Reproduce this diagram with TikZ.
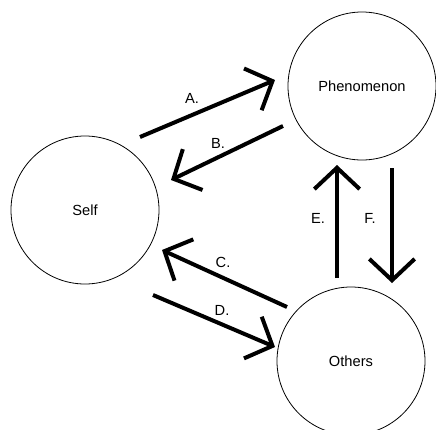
\documentclass[tikz,border=0pt]{standalone}
\usepackage{fontspec}
\setmainfont{Liberation Sans}
\usetikzlibrary{arrows.meta}

\tikzset{
  entity/.style={circle,draw,line width=0.6pt,minimum size=111pt,inner sep=0pt,font=\fontsize{11}{13}\selectfont},
  flow/.style={line width=3pt,-{Straight Barb[length=16pt,width=34pt,line width=3pt]}},
  tag/.style={font=\fontsize{11}{13}\selectfont}
}

\begin{document}
\begin{tikzpicture}[x=0.75pt,y=-0.75pt]

      \clip (0,0) rectangle (436,429);

      \node[entity] (self) at (85,210) {Self};
      \node[entity] (phen) at (362,86) {Phenomenon};
      \node[entity] (others) at (351,361) {Others};

      % arrow ends
      \coordinate (a0) at (140,137);
      \coordinate (a1) at (275,80);
      \coordinate (b0) at (283,126);
      \coordinate (b1) at (171,180);
      \coordinate (c0) at (287,307);
      \coordinate (c1) at (162,250);
      \coordinate (d0) at (153,295);
      \coordinate (d1) at (275,347);
      \coordinate (e0) at (337,278);
      \coordinate (e1) at (337,165);
      \coordinate (f0) at (392,168);
      \coordinate (f1) at (392,283);

      \draw[flow] (a0) -- (a1);
      \draw[flow] (b0) -- (b1);
      \draw[flow] (c0) -- (c1);
      \draw[flow] (d0) -- (d1);
      \draw[flow] (e0) -- (e1);
      \draw[flow] (f0) -- (f1);

      \node[tag] (la) at (192,98) {A.};
      \node[tag] (lb) at (218,143) {B.};
      \node[tag] (lc) at (223,262) {C.};
      \node[tag] (ld) at (222,310) {D.};
      \node[tag] (le) at (318,218) {E.};
      \node[tag] (lf) at (370,218) {F.};

\end{tikzpicture}
\end{document}
